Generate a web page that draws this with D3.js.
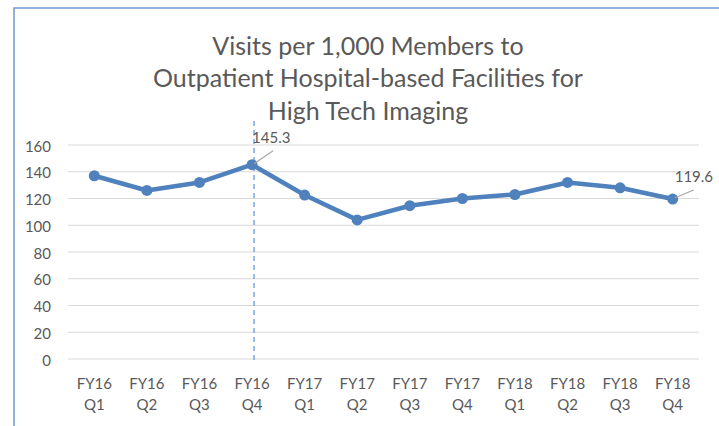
<!DOCTYPE html>
<html>
<head>
<meta charset="utf-8">
<script src="https://d3js.org/d3.v7.min.js"></script>
<style>
  body { margin: 0; background: #fff; }
  text { font-family: Lato, "Open Sans", sans-serif; }
</style>
</head>
<body>
<div id="chart"></div>
<script>
var years = ["FY16", "FY16", "FY16", "FY16", "FY17", "FY17", "FY17", "FY17", "FY18", "FY18", "FY18", "FY18"];
var quarters = ["Q1", "Q2", "Q3", "Q4", "Q1", "Q2", "Q3", "Q4", "Q1", "Q2", "Q3", "Q4"];
var visits = [137, 126, 132, 145.3, 122.6, 104, 114.6, 120, 123, 132, 128, 119.6];
var yTicks = [0, 20, 40, 60, 80, 100, 120, 140, 160];
var titleLines = ["Visits per 1,000 Members to", "Outpatient Hospital-based Facilities for", "High Tech Imaging"];

var W = 719, H = 426;
var margin = { top: 145, right: 20, bottom: 67, left: 68 },
  width = W - margin.left - margin.right,
  height = H - margin.top - margin.bottom;

var root = d3.select("#chart").append("svg")
  .attr("width", W)
  .attr("height", H);

// frame of the chart area
root.append("rect")
  .attr("x", 14).attr("y", 8)
  .attr("width", W + 20).attr("height", H + 20)
  .attr("fill", "none")
  .attr("stroke", "#6f98cf")
  .attr("stroke-width", 1.5);

root.append("text")
  .attr("text-anchor", "middle")
  .attr("fill", "#595959")
  .style("font-size", "25px")
  .selectAll("tspan")
  .data(titleLines)
  .enter()
  .append("tspan")
  .attr("x", 368)
  .attr("y", function(d, i) { return 54.5 + i * 32.75; })
  .text(function(d) { return d; });

var svg = root.append("g")
  .attr("transform", "translate(" + margin.left + "," + margin.top + ")");

var idx = d3.range(visits.length);

var x = d3.scaleBand()
  .domain(idx)
  .range([0, width])
  .padding(0);

var y = d3.scaleLinear()
  .domain([0, 160])
  .range([height, 0]);

// gridlines
svg.append("g")
  .selectAll("line")
  .data(yTicks)
  .enter()
  .append("line")
  .attr("x1", 0)
  .attr("x2", width)
  .attr("y1", function(d) { return y(d); })
  .attr("y2", function(d) { return y(d); })
  .attr("stroke", "#d9d9d9")
  .attr("stroke-width", 1.2);

// y axis labels
var yAxis = svg.append("g")
  .call(d3.axisLeft(y).tickValues(yTicks).tickSize(0).tickPadding(17));
yAxis.select(".domain").remove();
yAxis.selectAll("text")
  .attr("fill", "#595959")
  .attr("dy", "0.4em")
  .style("font-size", "15px")
  .style("font-family", "Lato, 'Open Sans', sans-serif");

// x axis labels (two lines)
var xAxis = svg.append("g")
  .attr("transform", "translate(0," + height + ")")
  .call(d3.axisBottom(x).tickSize(0).tickFormat(""));
xAxis.select(".domain").remove();
xAxis.selectAll(".tick").each(function(d) {
  var t = d3.select(this).append("text")
    .attr("text-anchor", "middle")
    .attr("fill", "#595959")
    .style("font-size", "15px");
  t.append("tspan").attr("x", 0).attr("y", 30).text(years[d]);
  t.append("tspan").attr("x", 0).attr("y", 51).text(quarters[d]);
});

// dashed marker at FY16 Q4
var peak = 3;
svg.append("line")
  .attr("x1", x(peak) + x.bandwidth() / 2 + 2)
  .attr("x2", x(peak) + x.bandwidth() / 2 + 2)
  .attr("y1", -24)
  .attr("y2", height + 3)
  .attr("stroke", "#5b8fd6")
  .attr("stroke-width", 1.2)
  .attr("stroke-dasharray", "5,4");

var cx = function(d, i) { return x(i) + x.bandwidth() / 2; };

var line = d3.line()
  .x(function(d, i) { return cx(d, i); })
  .y(function(d) { return y(d); });

svg.append("path")
  .datum(visits)
  .attr("fill", "none")
  .attr("stroke", "#4f81bd")
  .attr("stroke-width", 4.5)
  .attr("stroke-linejoin", "round")
  .attr("d", line);

svg.selectAll(".dot")
  .data(visits)
  .enter()
  .append("circle")
  .attr("class", "dot")
  .attr("cx", cx)
  .attr("cy", function(d) { return y(d); })
  .attr("r", 5.5)
  .attr("fill", "#4f81bd");

// data labels with leader lines
var labelled = [3, 11];
labelled.forEach(function(i) {
  var px = cx(visits[i], i), py = y(visits[i]);
  var dy = i === 3 ? -14 : -9;
  svg.append("line")
    .attr("x1", px + 2).attr("y1", py - 1)
    .attr("x2", px + 21).attr("y2", py + dy)
    .attr("stroke", "#a6a6a6")
    .attr("stroke-width", 1.2);
  svg.append("text")
    .attr("x", px + (i === 3 ? 0 : 2))
    .attr("y", py + dy - 8)
    .attr("fill", "#595959")
    .style("font-size", "15px")
    .text(visits[i].toFixed(1));
});
</script>
</body>
</html>
